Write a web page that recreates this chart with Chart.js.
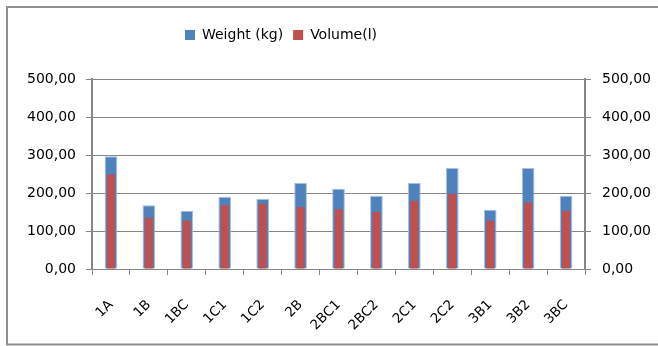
<!DOCTYPE html>
<html>
<head>
<meta charset="utf-8">
<script src="https://cdn.jsdelivr.net/npm/chart.js@4.4.1/dist/chart.umd.min.js"></script>
<style>
  html, body { margin: 0; padding: 0; background: #ffffff; overflow: hidden; }
  #chart { display: block; }
</style>
</head>
<body>
<canvas id="chart" width="658" height="346"></canvas>
<script>
// Samples along the x axis
const categories = ['1A', '1B', '1BC', '1C1', '1C2', '2B', '2BC1', '2BC2', '2C1', '2C2', '3B1', '3B2', '3BC'];

// Measured weight (kg) per sample
const weightKg = [297, 168, 153, 190, 185, 226, 211, 193, 226, 266, 156, 266, 193];

// Measured volume (l) per sample
const volumeL = [249, 135, 127, 168, 172, 163, 157, 150, 179, 198, 127, 175, 153];

// Value axis labels, 0 to 500 in steps of 100
const yTickValues = [0, 100, 200, 300, 400, 500];
const yTickLabels = ['0,00', '100,00', '200,00', '300,00', '400,00', '500,00'];

const FONT = "'DejaVu Sans', sans-serif";
const FONT_SIZE = 14;
const AXIS_GREY = '#868686';

function tickLabel(value) {
  const i = yTickValues.indexOf(value);
  return i >= 0 ? yTickLabels[i] : '';
}

// Moves the legend to sit left of centre, just under the top edge
const legendPlacement = {
  id: 'legendPlacement',
  afterLayout(chart) {
    const lg = chart.legend;
    if (!lg) return;
    const dx = -48, dy = -27;
    lg.left += dx; lg.right += dx;
    lg.top += dy; lg.bottom += dy;
    if (lg.adjustHitBoxes) lg.adjustHitBoxes();
  }
};

// Outline of the chart frame: left, top and bottom edges
const chartFrame = {
  id: 'chartFrame',
  beforeDraw(chart) {
    const ctx = chart.ctx;
    ctx.save();
    ctx.strokeStyle = '#8e8e8e';
    ctx.lineWidth = 2;
    ctx.beginPath();
    ctx.moveTo(chart.width + 2, 7);
    ctx.lineTo(7, 7);
    ctx.lineTo(7, 344.5);
    ctx.lineTo(chart.width + 2, 344.5);
    ctx.stroke();
    ctx.restore();
  }
};

new Chart(document.getElementById('chart'), {
  type: 'bar',
  data: {
    labels: categories,
    datasets: [
      {
        label: 'Weight (kg)',
        data: weightKg,
        backgroundColor: '#4f81bd',
        borderColor: '#a7c0e0',
        borderWidth: 1,
        barPercentage: 0.335,
        categoryPercentage: 1,
        grouped: false,
        order: 1,
        yAxisID: 'y'
      },
      {
        label: 'Volume(l)',
        data: volumeL,
        backgroundColor: '#c0504d',
        borderWidth: 0,
        barPercentage: 0.21,
        categoryPercentage: 1,
        grouped: false,
        order: 0,
        yAxisID: 'y'
      }
    ]
  },
  options: {
    responsive: false,
    animation: false,
    devicePixelRatio: 1,
    layout: { padding: { top: 45, left: 0, right: 0, bottom: 0 } },
    plugins: {
      tooltip: { enabled: false },
      legend: {
        display: true,
        position: 'top',
        labels: {
          boxWidth: 10,
          boxHeight: 10,
          padding: 10,
          color: '#000000',
          font: { family: FONT, size: FONT_SIZE },
          sort: (a, b) => a.datasetIndex - b.datasetIndex,
          generateLabels(chart) {
            const items = Chart.defaults.plugins.legend.labels.generateLabels(chart);
            items.forEach(it => { it.lineWidth = 0; it.strokeStyle = it.fillStyle; });
            return items;
          }
        }
      }
    },
    scales: {
      x: {
        grid: {
          display: true,
          drawOnChartArea: false,
          drawTicks: true,
          tickLength: 6,
          color: AXIS_GREY,
          offset: true
        },
        border: { display: true, color: AXIS_GREY, width: 1 },
        ticks: {
          color: '#000000',
          font: { family: FONT, size: 13.5 },
          minRotation: 45,
          maxRotation: 45,
          autoSkip: false,
          padding: 22
        },
        afterFit(scale) { scale.height = 77; }
      },
      y: {
        position: 'left',
        min: 0,
        max: 500,
        grid: {
          display: true,
          drawOnChartArea: true,
          drawTicks: true,
          tickLength: 6,
          color: AXIS_GREY,
          lineWidth: 1
        },
        border: { display: true, color: AXIS_GREY, width: 2 },
        ticks: {
          stepSize: 100,
          color: '#000000',
          font: { family: FONT, size: FONT_SIZE },
          padding: 10,
          callback: tickLabel
        },
        afterFit(scale) { scale.width = 92; }
      },
      y2: {
        position: 'right',
        min: 0,
        max: 500,
        grid: {
          display: true,
          drawOnChartArea: false,
          drawTicks: true,
          tickLength: 6,
          color: AXIS_GREY
        },
        border: { display: true, color: AXIS_GREY, width: 2 },
        ticks: {
          stepSize: 100,
          color: '#000000',
          font: { family: FONT, size: FONT_SIZE },
          padding: 11,
          callback: tickLabel
        },
        afterFit(scale) { scale.width = 73; }
      }
    }
  },
  plugins: [legendPlacement, chartFrame]
});
</script>
</body>
</html>
